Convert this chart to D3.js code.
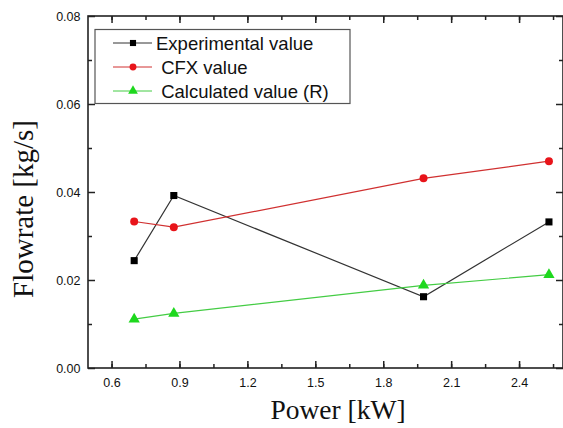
<!DOCTYPE html>
<html>
<head>
<meta charset="utf-8">
<script src="https://cdn.jsdelivr.net/npm/d3@7"></script>
<style>
  body { margin: 0; background: #fff; }
  svg { display: block; }
</style>
</head>
<body>
<div id="chart"></div>
<script>
// power [kW] on x, flowrate [kg/s] on y
const power = [0.7, 0.875, 1.978, 2.532];
const experimental = [0.0244, 0.0392, 0.0162, 0.0332];
const cfx = [0.0333, 0.0320, 0.0431, 0.0470];
const calculated = [0.0111, 0.0124, 0.0188, 0.0212];
const seriesNames = ["Experimental value", " CFX value", " Calculated value (R)"];
const xTicks = [0.6, 0.9, 1.2, 1.5, 1.8, 2.1, 2.4];
const yTicks = [0, 0.02, 0.04, 0.06, 0.08];

const width = 563, height = 428;
const margin = { top: 16, right: 0, bottom: 60, left: 88 };

const svg = d3.select("#chart").append("svg")
  .attr("width", width)
  .attr("height", height);

const x = d3.scaleLinear().domain([0.496, 2.594]).range([margin.left, width - margin.right]);
const y = d3.scaleLinear().domain([0, 0.08]).range([height - margin.bottom, margin.top]);

const series = [
  { name: seriesNames[0], values: experimental, line: "#333", fill: "#000", shape: d3.symbolSquare, size: 50 },
  { name: seriesNames[1], values: cfx, line: "#d03030", fill: "#e8141a", shape: d3.symbolCircle, size: 50 },
  { name: seriesNames[2], values: calculated, line: "#44cc44", fill: "#1ed81e", shape: d3.symbolTriangle, size: 55 }
];

const tickFont = "Liberation Sans, Arial, sans-serif";
const x0 = margin.left, x1 = width - margin.right;
const y0 = height - margin.bottom, y1 = margin.top;

// minor ticks
const xMinor = d3.range(0.45, 2.6, 0.15).filter(v => x(v) > x0 + 1 && x(v) < x1 - 1);
const yMinor = d3.range(0.01, 0.08, 0.02);

function styleAxis(g) {
  g.select(".domain").remove();
  g.selectAll("line").attr("stroke", "#222").attr("stroke-width", 1.5);
  g.selectAll("text").attr("font-family", tickFont).attr("font-size", 12.5).attr("fill", "#111");
}

// bottom
svg.append("g").attr("transform", `translate(0,${y0})`)
  .call(d3.axisBottom(x).tickValues(xTicks).tickSize(-7).tickPadding(10).tickFormat(d3.format(".1f")))
  .call(styleAxis);
svg.append("g").attr("transform", `translate(0,${y0})`)
  .call(d3.axisBottom(x).tickValues(xMinor).tickSize(-4).tickFormat(""))
  .call(styleAxis);
// top
svg.append("g").attr("transform", `translate(0,${y1})`)
  .call(d3.axisTop(x).tickValues(xTicks).tickSize(-7).tickFormat(""))
  .call(styleAxis);
svg.append("g").attr("transform", `translate(0,${y1})`)
  .call(d3.axisTop(x).tickValues(xMinor).tickSize(-4).tickFormat(""))
  .call(styleAxis);
// left
svg.append("g").attr("transform", `translate(${x0},0)`)
  .call(d3.axisLeft(y).tickValues(yTicks).tickSize(-7).tickPadding(7.5).tickFormat(d3.format(".2f")))
  .call(styleAxis);
svg.append("g").attr("transform", `translate(${x0},0)`)
  .call(d3.axisLeft(y).tickValues(yMinor).tickSize(-4).tickFormat(""))
  .call(styleAxis);
// right
svg.append("g").attr("transform", `translate(${x1},0)`)
  .call(d3.axisRight(y).tickValues(yTicks).tickSize(-7).tickFormat(""))
  .call(styleAxis);
svg.append("g").attr("transform", `translate(${x1},0)`)
  .call(d3.axisRight(y).tickValues(yMinor).tickSize(-4).tickFormat(""))
  .call(styleAxis);

// frame
svg.append("rect")
  .attr("x", x0).attr("y", y1)
  .attr("width", x1 - x0).attr("height", y0 - y1)
  .attr("fill", "none").attr("stroke", "#222").attr("stroke-width", 1.6);

// lines + markers
const line = d3.line().x((d, i) => x(power[i])).y(d => y(d));
series.forEach(s => {
  svg.append("path")
    .datum(s.values)
    .attr("d", line)
    .attr("fill", "none")
    .attr("stroke", s.line)
    .attr("stroke-width", 1.2);
  svg.selectAll(null)
    .data(s.values)
    .join("path")
    .attr("transform", (d, i) => `translate(${x(power[i])},${y(d)})`)
    .attr("d", d3.symbol().type(s.shape).size(s.size))
    .attr("fill", s.fill);
});

// axis titles
svg.append("text")
  .attr("x", 338).attr("y", 419)
  .attr("text-anchor", "middle")
  .attr("font-family", "Liberation Serif, Times New Roman, serif")
  .attr("font-size", 27.5)
  .attr("fill", "#111")
  .text("Power [kW]");

svg.append("text")
  .attr("transform", "translate(33,209) rotate(-90)")
  .attr("text-anchor", "middle")
  .attr("font-family", "Liberation Serif, Times New Roman, serif")
  .attr("font-size", 29)
  .attr("fill", "#111")
  .text("Flowrate [kg/s]");

// legend
const legend = svg.append("g");
legend.append("rect")
  .attr("x", 95).attr("y", 29.5)
  .attr("width", 255).attr("height", 74)
  .attr("fill", "#fff").attr("stroke", "#555").attr("stroke-width", 1.2);

const rowY = d3.scalePoint().domain(seriesNames).range([43, 91]);
series.forEach(s => {
  const cy = rowY(s.name);
  legend.append("line")
    .attr("x1", 113).attr("x2", 152)
    .attr("y1", cy).attr("y2", cy)
    .attr("stroke", s.line).attr("stroke-width", 1);
  legend.append("path")
    .attr("transform", `translate(133,${cy})`)
    .attr("d", d3.symbol().type(s.shape).size(s.size * 0.75))
    .attr("fill", s.fill);
  legend.append("text")
    .attr("x", 156).attr("y", cy + 6.5)
    .attr("xml:space", "preserve")
    .style("white-space", "pre")
    .attr("font-family", tickFont)
    .attr("font-size", 18.5)
    .attr("fill", "#111")
    .text(s.name);
});
</script>
</body>
</html>
